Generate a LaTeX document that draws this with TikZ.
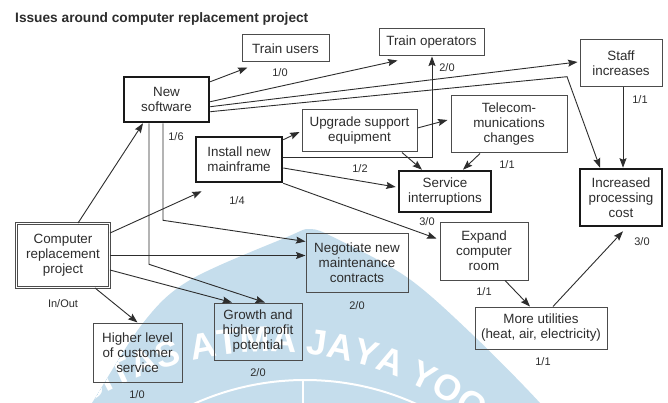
\documentclass[tikz,border=0pt]{standalone}
\usepackage{fontspec}
\setmainfont{Liberation Sans}
\usetikzlibrary{arrows.meta,calc,decorations.text}
\definecolor{wmblue}{RGB}{197,221,236}
\definecolor{ink}{RGB}{45,45,45}
\begin{document}
\begin{tikzpicture}[x=1pt,y=-1pt,
  box/.style={draw=ink!85, line width=1pt, inner sep=0pt, align=center,
    font=\fontsize{13.4}{15}\selectfont, text=ink},
  thickbox/.style={box, draw=black!90, line width=2.6pt},
  dblbox/.style={box, double=white, double distance=1.6pt, line width=0.9pt},
  lab/.style={inner sep=0pt, font=\fontsize{11}{12}\selectfont, text=ink},
  arr/.style={draw=ink, line width=0.9pt, -{Stealth[length=9.5pt,width=7pt,inset=1.5pt]}}]
\useasboundingbox (0,0) rectangle (668,403);
\fill[white] (0,0) rectangle (668,403);
% watermark (behind the diagram)
\begin{scope}
\clip (0,0) rectangle (668,403);
\fill[wmblue] plot[smooth, tension=0.55] coordinates {(80,422) (92,403) (143,323) (190,280) (287,237) (310,229) (335,238) (408,278) (475,337) (540,403) (552,422)} -- cycle;
\draw[white, line width=2pt] (305,650) circle[radius=270];
\draw[white, line width=2pt] (303,380) -- (303,403);
\end{scope}
\begin{scope}
\clip plot[smooth, tension=0.55] coordinates {(80,422) (92,403) (143,323) (190,280) (287,237) (310,229) (335,238) (408,278) (475,337) (540,403) (552,422)} -- cycle;
\path[decorate, decoration={text along path, text align=center, text color=white,
  text={|\fontsize{36}{36}\selectfont\bfseries|UNIVERSITAS ATMA JAYA YOGYAKARTA}}]
  (268,695) ++(-174:343) arc[start angle=-174, end angle=6, radius=343];
\end{scope}

% title
\node[anchor=base west, inner sep=0pt, font=\fontsize{13.7}{14}\selectfont\bfseries, text=ink] (title) at (15,23) {Issues around computer replacement project};

% nodes
\node[box, minimum width=87pt, minimum height=27pt] (trainusers) at (285.5,48.5) {Train users};
\node[thickbox, minimum width=85pt, minimum height=45pt] (newsw) at (166.5,99.5) {New\\software};
\node[thickbox, minimum width=86pt, minimum height=45pt] (install) at (239,159.5) {Install new\\mainframe};
\node[box, minimum width=115pt, minimum height=42pt] (upgrade) at (359.5,131) {Upgrade support\\equipment};
\node[box, minimum width=105pt, minimum height=27pt] (trainops) at (431.5,42.5) {Train operators};
\node[box, minimum width=82pt, minimum height=47pt] (staff) at (621,63.5) {Staff\\increases};
\node[box, minimum width=116pt, minimum height=57pt] (telecom) at (509,124.5) {Telecom-\\munications\\changes};
\node[thickbox, minimum width=92pt, minimum height=41pt] (service) at (445,191.5) {Service\\interruptions};
\node[thickbox, minimum width=82pt, minimum height=57pt] (incproc) at (621,197.5) {Increased\\processing\\cost};
\node[box, minimum width=88pt, minimum height=58pt] (expand) at (484,251) {Expand\\computer\\room};
\node[box, minimum width=102pt, minimum height=59pt] (negotiate) at (357,262.5) {Negotiate new\\maintenance\\contracts};
\node[box, minimum width=132pt, minimum height=42pt] (utilities) at (541,328) {More utilities\\(heat, air, electricity)};
\node[dblbox, minimum width=93pt, minimum height=64pt] (crp) at (63,255.5) {Computer\\replacement\\project};
\node[box, minimum width=89pt, minimum height=59pt] (higher) at (137.5,352.5) {Higher level\\of customer\\service};
\node[box, minimum width=88pt, minimum height=57pt] (growth) at (258,331.5) {Growth and\\higher profit\\potential};

% labels
\node[lab] (l-trainusers) at (280,73) {1/0};
\node[lab] (l-newsw) at (176,137) {1/6};
\node[lab] (l-install) at (237,201) {1/4};
\node[lab] (l-upgrade) at (360,169) {1/2};
\node[lab] (l-trainops) at (447,68) {2/0};
\node[lab] (l-staff) at (640,100) {1/1};
\node[lab] (l-telecom) at (507,165) {1/1};
\node[lab] (l-service) at (427,222) {3/0};
\node[lab] (l-incproc) at (642,242) {3/0};
\node[lab] (l-expand) at (484,292) {1/1};
\node[lab] (l-negotiate) at (357,306) {2/0};
\node[lab] (l-utilities) at (543,362) {1/1};
\node[lab] (l-crp) at (63,304) {In/Out};
\node[lab] (l-higher) at (137,395) {1/0};
\node[lab] (l-growth) at (258,373) {2/0};

% connectors
\draw[arr] ($(crp.north)+(15,0)$) -- ($(newsw.south)+(-23.5,0)$);
\draw[arr] ($(crp.north east)+(0,10)$) -- ($(install.south west)+(7,8)$);
\draw[arr] (crp.east) -- (crp.east -| negotiate.west);
\draw[arr] ($(crp.east)+(0,14.5)$) -- ($(growth.north)+(-26,0)$);
\draw[arr] ($(crp.south)+(32,0)$) -- (higher.north);
\draw[arr] ($(newsw.south)+(-17.5,0)$) -- ++(0,141) -- ($(growth.north)+(7,0)$);
\draw[arr] ($(newsw.south)+(-3.5,0)$) -- ++(0,97) -- ($(negotiate.north west)+(0,9)$);
\draw[arr] ($(newsw.north east)+(0,6)$) -- ($(trainusers.south west)+(6,5)$);
\draw[arr] ($(newsw.north east)+(0,26)$) -- ($(trainops.south)+(-34,4)$);
\draw[arr] ($(newsw.north east)+(0,31)$) -- ($(staff.west)+(-2,-1.5)$);
\draw[arr] ($(newsw.north east)+(0,36)$) -- ($(incproc.north)+(-54,-91)$) -- ($(incproc.north)+(-21,0)$);
\draw[arr] ($(staff.south)+(2,0)$) -- ($(incproc.north)+(2,0)$);
\draw[arr] ($(install.north east)+(0,4)$) -- ($(upgrade.west)+(-2,1)$);
\draw[arr] ($(install.east)+(0,-2.5)$) -| ($(trainops.south)+(0.5,0)$);
\draw[arr] ($(install.east)+(0,8.5)$) -- ($(service.west)+(-2,-4.5)$);
\draw[arr] (install.south east) -- ($(expand.north west)+(-3,17)$);
\draw[arr] ($(upgrade.east)+(0,-3)$) -- ($(telecom.west)+(-3,-4.5)$);
\draw[arr] ($(upgrade.south)+(42.5,0)$) -- ($(service.north)+(-23,0)$);
\draw[arr] ($(telecom.south)+(-29,0)$) -- ($(service.north)+(18,0)$);
\draw[arr] ($(expand.south)+(21,0)$) -- ($(utilities.north)+(-11,0)$);
\draw[arr] ($(utilities.north)+(12,0)$) -- ($(incproc.south)+(2,4)$);
\end{tikzpicture}
\end{document}
